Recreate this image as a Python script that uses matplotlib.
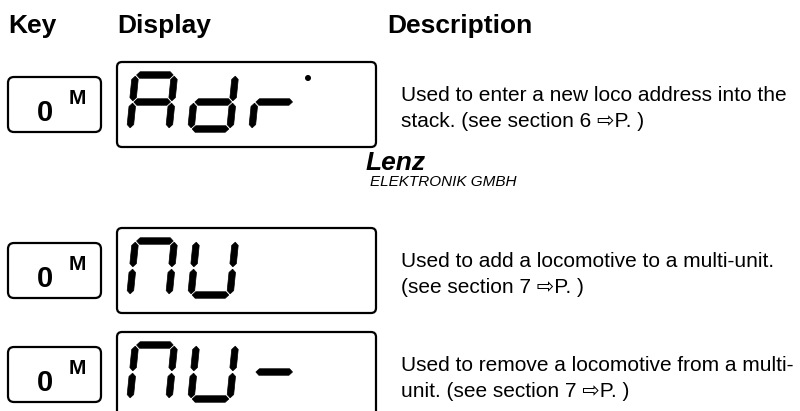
import numpy as np
import matplotlib
matplotlib.use("Agg")
import matplotlib.pyplot as plt
from matplotlib.patches import FancyBboxPatch, Polygon, Circle

# table content
headers = ["Key", "Display", "Description"]
key_labels = ["0", "0", "0"]
key_supers = ["M", "M", "M"]
displays = ["Adr", "nU", "nU-"]
display_dot = [True, False, False]
descriptions = [
    ["Used to enter a new loco address into the", "stack. (see section 6 \u21e8P. )"],
    ["Used to add a locomotive to a multi-unit.", "(see section 7 \u21e8P. )"],
    ["Used to remove a locomotive from a multi-", "unit. (see section 7 \u21e8P. )"],
]
row_tops = [62, 228, 332]  # top of each display box (pixels)
logo_name = "Lenz"
logo_sub = "ELEKTRONIK GMBH"

# which segments are lit for each character (a..g)
SEGMENTS = {
    "A": "abcefg",
    "d": "bcdeg",
    "r": "eg",
    "n": "abcef",
    "U": "bcdef",
    "-": "g",
}

FONT = ["Liberation Sans", "DejaVu Sans"]


def segment_poly(p0, p1, t):
    '''hexagon with pointed ends between p0 and p1, thickness t'''
    p0 = np.array(p0, float)
    p1 = np.array(p1, float)
    d = (p1 - p0) / np.linalg.norm(p1 - p0)
    n = np.array([-d[1], d[0]])
    h = t / 2
    return [p0, p0 + d * h + n * h, p1 - d * h + n * h, p1,
            p1 - d * h - n * h, p0 + d * h - n * h]


def draw_char(ax, ch, x0, y0, w=39, h=54, t=6.5, gap=1.2, skew=0.1):
    ends = {
        "a": ((0, 0), (w, 0)),
        "g": ((0, h / 2), (w, h / 2)),
        "d": ((0, h), (w, h)),
        "f": ((0, 0), (0, h / 2)),
        "b": ((w, 0), (w, h / 2)),
        "e": ((0, h / 2), (0, h)),
        "c": ((w, h / 2), (w, h)),
    }
    for s in SEGMENTS[ch]:
        (xa, ya), (xb, yb) = ends[s]
        if ya == yb:
            pa, pb = (xa + gap, ya), (xb - gap, yb)
        else:
            pa, pb = (xa, ya + gap), (xb, yb - gap)
        pts = segment_poly(pa, pb, t)
        pts = [(x0 + px + skew * (h - py), y0 + py) for px, py in pts]
        ax.add_patch(Polygon(pts, closed=True, fc="black", ec="black", lw=0.5))


fig = plt.figure(figsize=(8.0, 4.11), dpi=100)
ax = fig.add_axes([0, 0, 1, 1])
ax.set_xlim(0, 800)
ax.set_ylim(411, 0)
ax.axis("off")

# header
for txt, x in zip(headers, [8, 117, 387]):
    ax.text(x, 33, txt, fontsize=19, fontweight="bold", family=FONT,
            va="baseline", ha="left")

for i, top in enumerate(row_tops):
    # key box
    ktop = top + 15
    ax.add_patch(FancyBboxPatch((8, ktop), 93, 55,
                                boxstyle="round,pad=0,rounding_size=6",
                                fc="white", ec="black", lw=1.6))
    ax.text(37, ktop + 44, key_labels[i], fontsize=21, fontweight="bold",
            family=FONT, va="baseline", ha="left")
    ax.text(69, ktop + 27, key_supers[i], fontsize=15, fontweight="bold",
            family=FONT, va="baseline", ha="left")

    # display box
    ax.add_patch(FancyBboxPatch((117, top), 259, 85,
                                boxstyle="round,pad=0,rounding_size=5",
                                fc="white", ec="black", lw=1.6))
    for j, ch in enumerate(displays[i]):
        draw_char(ax, ch, 130 + 61 * j, top + 13)
    if display_dot[i]:
        ax.add_patch(Circle((308, top + 16), 3, fc="black", ec="none"))

    # description
    for k, line in enumerate(descriptions[i]):
        ax.text(401, top + 39 + 26 * k, line, fontsize=15, family=FONT,
                va="baseline", ha="left")

# Lenz logo
ax.text(366, 170, logo_name, fontsize=19, fontweight="bold", style="italic",
        family=FONT, va="baseline", ha="left")
ax.text(370, 186, logo_sub, fontsize=11, style="italic",
        family=FONT, va="baseline", ha="left")

fig.savefig("out.png", dpi=100)
